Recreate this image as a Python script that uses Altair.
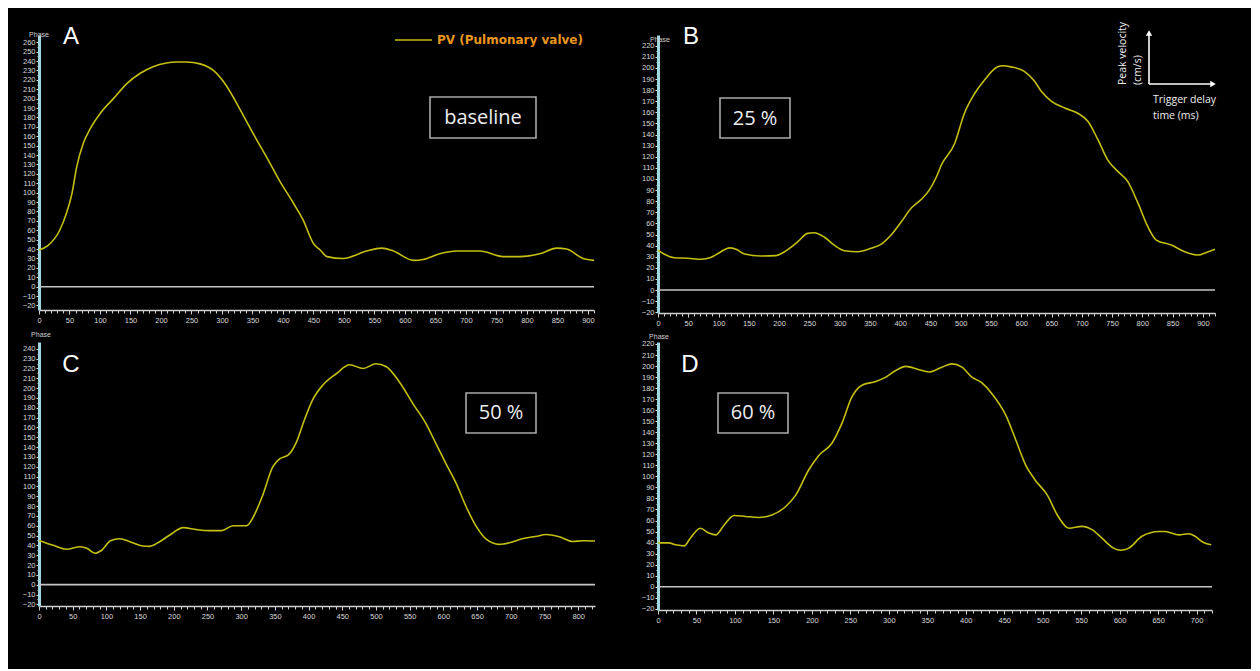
import altair as alt
import pandas as pd

# ---------------- data ----------------
A_T = [0, 15, 34, 45, 54, 62, 73, 84, 100, 122, 144, 166, 187, 209, 225, 242, 264, 286, 308, 330,
       351, 373, 395, 417, 433, 450, 461, 472, 499, 537, 562, 581, 614, 630, 657, 685, 723, 761, 789, 821,
       849, 865, 892, 910]
A_V = [39, 44, 60, 78, 99, 128, 153, 168, 184, 200, 216, 227, 234, 238, 239, 239, 237, 230, 213, 188,
       163, 138, 112, 89, 71, 46, 39, 32, 30, 38, 41, 38, 28, 29, 35, 38, 38, 32, 32, 35,
       41, 40, 30, 28]

B_T = [0, 10, 27, 49, 71, 88, 104, 118, 129, 143, 170, 195, 209, 231, 247, 258, 275, 291, 308, 330,
       352, 369, 385, 402, 418, 435, 448, 460, 468, 490, 506, 523, 539, 561, 570, 583, 605, 622, 633, 650,
       672, 694, 710, 727, 743, 760, 776, 793, 809, 823, 848, 870, 892, 909, 920]
B_V = [36, 32.4, 29, 28.6, 27.7, 29.5, 34.5, 38, 36.7, 32.4, 30.6, 31, 34.5, 43.5, 51, 51.6, 47.5, 40.5, 35.4, 34.5,
       37.6, 41.4, 49.5, 61.5, 73.6, 81.7, 90, 102, 112.6, 132, 159, 177, 189, 201, 202, 201, 197, 188, 179, 170,
       164, 159, 152, 135, 117, 106.6, 97.6, 78, 57, 45, 40.5, 34.5, 31.5, 34.5, 36.7]

C_T = [0, 21, 41, 61, 71, 83, 93, 106, 120, 135, 154, 164, 179, 194, 214, 234, 253, 271, 288, 308,
       318, 332, 347, 357, 370, 382, 394, 406, 421, 441, 461, 481, 500, 515, 535, 555, 574, 589, 604, 619,
       634, 649, 664, 683, 698, 717, 737, 752, 772, 792, 807, 825]
C_V = [45, 40, 36, 38.6, 37, 32, 35, 44.7, 46.7, 43.7, 39.3, 39, 43.7, 50.5, 58, 56, 55, 55, 60, 60,
       69, 91, 120, 128, 132, 145, 168, 188, 203, 214.6, 223.7, 220, 224.8, 222, 206, 184, 164, 143.5, 123, 103,
       79, 59, 46, 41, 42.6, 46.7, 49, 51, 48.7, 44, 44.7, 44.5]

D_T = [0, 14, 23, 34, 42, 55, 66, 75, 86, 99, 114, 131, 148, 166, 179, 196, 209, 226, 239, 252,
       265, 283, 296, 309, 322, 339, 352, 369, 382, 395, 408, 421, 434, 452, 465, 478, 490, 506, 519, 534,
       551, 564, 577, 592, 601, 612, 629, 651, 659, 677, 690, 698, 709, 719]
D_V = [39.7, 39.7, 38, 37, 44, 53, 48.7, 47, 56, 64.6, 63.7, 62.8, 65, 72.7, 83, 106, 119, 130, 148, 172,
       182.6, 186, 190, 196, 199.7, 196.7, 194.6, 199, 202, 199, 190, 184.7, 175, 155.5, 133, 110, 96.8, 83, 65, 53,
       54.7, 51.7, 44, 35, 33, 35, 45.7, 50, 50, 47, 48, 45.7, 40, 38]

PANEL_LETTERS = ["A", "B", "C", "D"]
CONDITIONS = ["baseline", "25 %", "50 %", "60 %"]
LEGEND_LABEL = "PV (Pulmonary valve)"
AXIS_TAG = "Phase"
KEY_Y_TEXT = ["Peak velocity", "(cm/s)"]
KEY_X_TEXT = ["Trigger delay", "time (ms)"]

# axis ranges per panel
X_MAX = [910, 920, 825, 720]
Y_DOMAIN = [(-24.8, 267.7), (-20.7, 229.7), (-21.7, 246.9), (-21.1, 221.8)]
Y_TOP_TICK = [260, 220, 240, 220]

# ---------------- layout / style ----------------
WIDTHS = [555, 557, 556, 554]
HEIGHTS = [275, 278, 264, 268]
BOXES = [(391, 497, 62, 103), (62, 132, 63, 103), (427, 497, 51, 91), (60, 130, 51, 91)]
LABEL_POS = [(444, 83), (97, 84), (462, 71), (95, 71)]
LETTER_POS = [(32, 9), (33, 9), (32, 30), (32, 30)]
TAG_POS = [(0, 0), (2, 5), (2, -7), (1, -5)]

LINE_COLOR = "#c4bf10"
FG = "#ededed"
AX = "#d0d0d0"

one = pd.DataFrame({"n": [0]})


def panel(i, t, v):
    df = pd.DataFrame({"t": t, "v": v})
    xmax = X_MAX[i]
    y0, y1 = Y_DOMAIN[i]
    x = alt.X(
        "t:Q",
        scale=alt.Scale(domain=[0, xmax], nice=False, zero=False),
        axis=alt.Axis(
            values=list(range(0, xmax + 1, 10)),
            tickCount=400,
            format="d",
            labelExpr="datum.value % 50 === 0 ? datum.label : ''",
            tickSize={"condition": {"test": "datum.value % 50 === 0", "value": 4}, "value": 3},
            labelOverlap=False,
            labelFlush=False,
            title=None,
        ),
    )
    y = alt.Y(
        "v:Q",
        scale=alt.Scale(domain=[y0, y1], nice=False, zero=False),
        axis=alt.Axis(
            values=list(range(-20, Y_TOP_TICK[i] + 1, 5)),
            tickCount=400,
            format="d",
            labelExpr="datum.value % 10 === 0 ? datum.label : ''",
            tickSize={"condition": {"test": "datum.value % 10 === 0", "value": 3}, "value": 2},
            labelOverlap=False,
            labelFlush=False,
            title=None,
        ),
    )
    line = alt.Chart(df).mark_line(color=LINE_COLOR, strokeWidth=1.6, interpolate="monotone").encode(x=x, y=y)
    zero = alt.Chart(pd.DataFrame({"v": [0]})).mark_rule(color="#c4c4c4", strokeWidth=1.6).encode(y="v:Q")

    bx0, bx1, by0, by1 = BOXES[i]
    box = alt.Chart(one).mark_rect(fillOpacity=0, stroke="#a9a9a9", strokeWidth=1.6).encode(
        x=alt.value(bx0), x2=alt.value(bx1), y=alt.value(by0), y2=alt.value(by1)
    )
    lx, ly = LABEL_POS[i]
    cond = alt.Chart(one).mark_text(
        font="Open Sans", fontSize=20, color=FG, align="center", baseline="middle"
    ).encode(x=alt.value(lx), y=alt.value(ly), text=alt.value(CONDITIONS[i]))
    tx, ty = LETTER_POS[i]
    letter = alt.Chart(one).mark_text(
        font="Liberation Sans", fontSize=24, color="#ffffff", align="center", baseline="alphabetic"
    ).encode(x=alt.value(tx), y=alt.value(ty), text=alt.value(PANEL_LETTERS[i]))
    gx, gy = TAG_POS[i]
    tag = alt.Chart(one).mark_text(
        font="Liberation Sans", fontSize=7, color="#cfcfcf", align="center", baseline="middle"
    ).encode(x=alt.value(gx), y=alt.value(gy), text=alt.value(AXIS_TAG))

    layers = [zero, line, box, cond, letter, tag]

    if i == 0:
        leg_line = alt.Chart(one).mark_rule(color=LINE_COLOR, strokeWidth=1.6).encode(
            x=alt.value(356), x2=alt.value(393), y=alt.value(5)
        )
        leg_text = alt.Chart(one).mark_text(
            font="DejaVu Sans", fontSize=12, fontWeight="bold", color="#e8961e",
            align="left", baseline="middle"
        ).encode(x=alt.value(398), y=alt.value(5), text=alt.value(LEGEND_LABEL))
        layers += [leg_line, leg_text]

    if i == 1:
        vx, hy = 491, 49
        v_arrow = alt.Chart(one).mark_rule(color="#ffffff", strokeWidth=1.6).encode(
            x=alt.value(vx), y=alt.value(hy), y2=alt.value(-1)
        )
        h_arrow = alt.Chart(one).mark_rule(color="#ffffff", strokeWidth=1.6).encode(
            x=alt.value(vx), x2=alt.value(553), y=alt.value(hy)
        )
        up_head = alt.Chart(one).mark_point(shape="triangle-up", filled=True, color="#ffffff",
                                            size=40, opacity=1).encode(
            x=alt.value(vx), y=alt.value(-2)
        )
        right_head = alt.Chart(one).mark_point(shape="triangle-right", filled=True, color="#ffffff",
                                               size=40, opacity=1).encode(
            x=alt.value(555), y=alt.value(hy)
        )
        ky1 = alt.Chart(one).mark_text(
            font="Open Sans", fontSize=10.5, color=FG, angle=270, align="left", baseline="middle"
        ).encode(x=alt.value(465), y=alt.value(50), text=alt.value(KEY_Y_TEXT[0]))
        ky2 = alt.Chart(one).mark_text(
            font="Open Sans", fontSize=10.5, color=FG, angle=270, align="left", baseline="middle"
        ).encode(x=alt.value(480), y=alt.value(50), text=alt.value(KEY_Y_TEXT[1]))
        kx1 = alt.Chart(one).mark_text(
            font="Open Sans", fontSize=10.5, color=FG, align="left", baseline="middle"
        ).encode(x=alt.value(495), y=alt.value(65), text=alt.value(KEY_X_TEXT[0]))
        kx2 = alt.Chart(one).mark_text(
            font="Open Sans", fontSize=10.5, color=FG, align="left", baseline="middle"
        ).encode(x=alt.value(495), y=alt.value(81), text=alt.value(KEY_X_TEXT[1]))
        layers += [v_arrow, h_arrow, up_head, right_head, ky1, ky2, kx1, kx2]

    return alt.layer(*layers).properties(width=WIDTHS[i], height=HEIGHTS[i])


panels = [panel(0, A_T, A_V), panel(1, B_T, B_V), panel(2, C_T, C_V), panel(3, D_T, D_V)]

chart = alt.concat(
    *panels, columns=2, spacing={"row": 29, "column": 63}, bounds="flush"
).properties(
    background="#000000",
    padding={"left": 14, "top": 13, "right": 32, "bottom": 45},
).configure_view(
    strokeWidth=0
).configure_axisX(
    domainColor=AX, domainWidth=1.6, tickColor=AX, tickWidth=1,
    labelColor="#d8d8d8", labelFont="Liberation Sans", labelFontSize=7.5,
    labelPadding=2, grid=False,
).configure_axisY(
    domainColor="#9fd6df", domainWidth=3, tickColor="#c9e9ee", tickWidth=1,
    labelColor="#d8d8d8", labelFont="Liberation Sans", labelFontSize=7.5,
    labelPadding=1, grid=False,
)

chart.save("out.html", embed_options={"renderer": "svg", "actions": False})
